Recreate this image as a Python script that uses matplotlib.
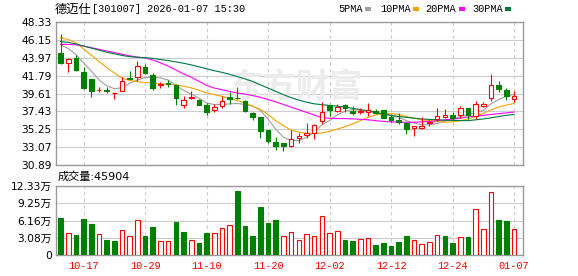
import matplotlib
matplotlib.use('Agg')
import matplotlib.pyplot as plt
from matplotlib.patches import Rectangle

plt.rcParams['font.family'] = ['DejaVu Sans', 'Noto Sans CJK SC']

# 交易日
dates = ['10-14', '10-15', '10-16', '10-17', '10-20', '10-21', '10-22', '10-23', '10-24', '10-27',
         '10-28', '10-29', '10-30', '10-31', '11-03', '11-04', '11-05', '11-06', '11-07', '11-10',
         '11-11', '11-12', '11-13', '11-14', '11-17', '11-18', '11-19', '11-20', '11-21', '11-24',
         '11-25', '11-26', '11-27', '11-28', '12-01', '12-02', '12-03', '12-04', '12-05', '12-08',
         '12-09', '12-10', '12-11', '12-12', '12-15', '12-16', '12-17', '12-18', '12-19', '12-22',
         '12-23', '12-24', '12-25', '12-26', '12-29', '12-30', '12-31', '01-05', '01-06', '01-07']

# K线 (开 高 低 收)
opens = [44.50, 43.39, 43.91, 42.23, 41.39, 39.99, 40.03, 39.67, 39.91, 41.51,
         41.59, 42.79, 41.83, 40.59, 40.95, 40.67, 38.23, 39.05, 38.87, 38.19,
         37.55, 38.03, 39.15, 39.11, 38.75, 37.19, 36.75, 35.15, 33.71, 33.59,
         33.15, 34.23, 34.51, 34.83, 36.27, 38.19, 37.51, 38.15, 37.51, 37.39,
         37.39, 37.47, 37.63, 36.75, 36.35, 36.03, 35.35, 35.35, 36.03, 36.47,
         36.79, 36.95, 37.03, 37.79, 36.87, 38.03, 39.07, 40.67, 40.07, 38.99]
highs = [46.90, 43.95, 44.35, 42.87, 41.40, 40.39, 40.35, 39.75, 41.59, 42.31,
         43.55, 43.15, 42.15, 40.99, 41.27, 40.75, 39.31, 39.91, 38.90, 38.43,
         38.27, 39.35, 39.75, 40.35, 38.80, 37.39, 36.80, 35.20, 34.27, 33.60,
         35.15, 34.75, 35.99, 35.95, 38.63, 38.25, 38.39, 38.35, 38.07, 37.79,
         38.51, 37.67, 37.65, 37.07, 37.23, 36.10, 35.65, 36.75, 36.35, 37.79,
         37.67, 37.39, 38.07, 37.80, 38.75, 38.59, 42.00, 41.19, 40.27, 39.95]
lows = [43.25, 42.27, 42.40, 40.15, 39.15, 39.75, 39.63, 38.99, 39.87, 41.35,
        41.15, 41.99, 39.99, 40.27, 40.39, 38.19, 37.83, 38.95, 38.15, 36.99,
        37.39, 37.79, 38.39, 38.99, 37.40, 36.39, 34.19, 33.55, 32.67, 32.59,
        33.10, 33.59, 34.19, 34.07, 35.87, 36.83, 37.35, 37.31, 36.99, 37.15,
        36.87, 37.15, 36.59, 36.19, 35.95, 34.67, 34.47, 35.27, 35.63, 36.27,
        36.67, 36.39, 36.67, 36.47, 36.47, 37.99, 38.67, 39.79, 38.87, 38.55]
closes = [43.35, 43.87, 42.47, 40.23, 39.87, 40.07, 39.87, 39.71, 41.15, 41.43,
          42.91, 42.07, 40.23, 40.75, 40.71, 39.07, 38.79, 39.15, 38.19, 37.39,
          37.95, 38.71, 38.99, 39.07, 37.47, 36.75, 35.07, 33.79, 33.15, 33.15,
          34.11, 34.43, 34.79, 35.79, 37.39, 37.63, 37.99, 37.79, 37.27, 37.51,
          37.55, 37.27, 36.67, 36.35, 36.11, 35.27, 35.59, 35.63, 36.19, 36.87,
          36.95, 36.67, 37.79, 36.95, 38.27, 38.27, 40.67, 40.11, 39.35, 39.27]

# 成交量 (手) 及涨跌颜色
volumes = [66700, 39300, 35700, 64900, 56000, 37500, 27400, 25600, 44700, 34000,
           62500, 34600, 50000, 25000, 25000, 59600, 41700, 26800, 22000, 39900,
           39300, 48300, 53600, 114400, 51800, 34000, 85800, 57800, 62500, 33400,
           41100, 26800, 37500, 33400, 69700, 39300, 42300, 26800, 25000, 28000,
           29800, 17900, 21400, 16100, 23800, 34000, 26800, 19700, 23200, 35700,
           34000, 22000, 31600, 32200, 82200, 45900, 112600, 62500, 60800, 45904]
vol_up = [0, 1, 0, 0, 0, 1, 0, 0, 1, 1, 1, 0, 0, 1, 1, 0, 0, 1, 0, 0,
          1, 1, 1, 0, 0, 0, 0, 0, 0, 1, 1, 1, 1, 1, 1, 1, 1, 0, 0, 1,
          1, 0, 0, 0, 0, 0, 1, 1, 1, 1, 0, 0, 1, 0, 1, 1, 1, 0, 0, 1]

# 均线
ma5 = [45.55, 45.10, 44.35, 43.35, 42.35, 41.30, 40.55, 40.20, 40.30, 40.85,
       41.25, 41.55, 41.60, 41.50, 41.25, 40.60, 40.00, 39.55, 39.05, 38.45,
       38.27, 38.27, 38.35, 38.39, 38.27, 38.07, 37.55, 36.47, 35.27, 34.27,
       33.87, 33.87, 34.27, 34.87, 35.80, 36.30, 37.00, 37.45, 37.65, 37.55,
       37.45, 37.30, 37.10, 36.90, 36.70, 36.30, 36.00, 35.80, 35.80, 35.95,
       36.25, 36.45, 36.80, 37.00, 37.30, 37.55, 38.35, 38.85, 39.30, 39.50]
ma10 = [46.40, 46.20, 45.80, 45.05, 44.30, 43.50, 42.80, 42.10, 41.50, 41.20,
        41.05, 40.95, 40.90, 40.80, 40.75, 40.65, 40.50, 40.30, 40.00, 39.70,
        39.47, 39.27, 38.99, 38.75, 38.47, 38.07, 37.67, 37.07, 36.30, 35.67,
        35.15, 34.87, 34.75, 34.72, 34.80, 34.99, 35.27, 35.55, 35.90, 36.30,
        36.70, 37.00, 37.15, 37.15, 37.05, 36.80, 36.60, 36.40, 36.30, 36.20,
        36.10, 36.15, 36.30, 36.50, 36.80, 37.20, 37.60, 37.95, 38.20, 38.40]
ma20 = [45.60, 45.60, 45.55, 45.40, 45.20, 45.00, 44.80, 44.60, 44.40, 44.20,
        44.05, 43.95, 43.70, 43.35, 42.95, 42.50, 42.00, 41.60, 41.10, 40.60,
        40.27, 40.07, 39.87, 39.67, 39.55, 39.35, 39.15, 38.87, 38.59, 38.27,
        37.95, 37.63, 37.31, 36.99, 36.67, 36.59, 36.55, 36.55, 36.51, 36.47,
        36.40, 36.30, 36.20, 36.15, 36.10, 36.10, 36.10, 36.15, 36.20, 36.30,
        36.40, 36.50, 36.60, 36.75, 36.85, 36.95, 37.05, 37.15, 37.25, 37.35]
ma30 = [45.95, 45.85, 45.65, 45.40, 45.15, 44.90, 44.65, 44.45, 44.25, 44.10,
        44.03, 43.98, 43.90, 43.75, 43.63, 43.47, 43.30, 43.10, 42.87, 42.63,
        42.39, 42.19, 41.95, 41.67, 41.39, 41.07, 40.67, 40.27, 39.87, 39.47,
        39.10, 38.80, 38.55, 38.35, 38.25, 38.15, 38.07, 37.95, 37.80, 37.65,
        37.50, 37.30, 37.10, 36.95, 36.80, 36.70, 36.60, 36.50, 36.45, 36.40,
        36.35, 36.33, 36.30, 36.30, 36.40, 36.50, 36.65, 36.80, 36.95, 37.05]

price_ticks = [30.89, 33.07, 35.25, 37.43, 39.61, 41.79, 43.97, 46.15, 48.33]
vol_ticks = [0, 30800, 61600, 92500, 123300]
vol_labels = ['0', '3.08万', '6.16万', '9.25万', '12.33万']

RED = '#ff0000'
GREEN = '#008000'
GRID = '#cccccc'
FRAME = '#999999'
MA_COLORS = ['#a0a0a0', '#f5a300', '#ff00ff', '#007a3d']

W, H = 578, 276


def fx(x):
    return x / W


def fy(y):
    return 1 - y / H


fig = plt.figure(figsize=(W / 100, H / 100), dpi=100)
ax = fig.add_axes([fx(56), fy(165), fx(522.5 - 56), (165 - 22) / H])
axv = fig.add_axes([fx(56), fy(255), fx(522.5 - 56), (255 - 186) / H], sharex=ax)

x = list(range(len(dates)))
tick_idx = x[3::8]

# K线
for i in x:
    up = closes[i] >= opens[i]
    col = RED if up else GREEN
    ax.vlines(i, lows[i], highs[i], color=col, lw=0.8, zorder=3)
    ax.bar(i, abs(closes[i] - opens[i]), bottom=min(opens[i], closes[i]), width=0.6,
           facecolor='white' if up else GREEN, edgecolor=col, lw=0.8, zorder=4)

for ma, c in zip([ma5, ma10, ma20, ma30], MA_COLORS):
    ax.plot(x, ma, color=c, lw=0.8, zorder=2.5)

# 水印
ax.text(0.515, 0.54, '东方财富', transform=ax.transAxes, fontsize=24, color='#ececec',
        family='Noto Sans CJK SC', fontweight='bold', ha='center', va='center', zorder=0.8)

ax.set_xlim(-0.59, 60.1)
ax.set_ylim(price_ticks[0], price_ticks[-1])
ax.set_yticks(price_ticks)
ax.set_yticklabels(['%.2f' % v for v in price_ticks])
ax.set_xticks(tick_idx)
ax.tick_params(axis='x', labelbottom=False, length=0)

# 成交量
for i in x:
    col = RED if vol_up[i] else GREEN
    axv.bar(i, volumes[i], width=0.6, facecolor='white' if vol_up[i] else GREEN,
            edgecolor=col, lw=0.8, zorder=3)

axv.set_ylim(0, vol_ticks[-1])
axv.set_yticks(vol_ticks)
axv.set_yticklabels(vol_labels)
axv.set_xticks(tick_idx)
axv.set_xticklabels([dates[i] for i in tick_idx], color=RED, family='Liberation Mono',
                    fontsize=7.4)
axv.tick_params(axis='x', length=0, pad=4)

for a in (ax, axv):
    a.set_axisbelow(True)
    a.grid(True, axis='y', color=GRID, lw=0.8, ls='-')
    a.grid(True, axis='x', color=GRID, lw=0.8, ls=(0, (3, 3)))
    a.tick_params(axis='y', length=0, pad=3, labelsize=7.7, colors='black')
    for s in a.spines.values():
        s.set_color(FRAME)
        s.set_linewidth(1.0)

# 标题与图例
fig.text(fx(55), fy(9), '德迈仕', family='Noto Sans CJK SC', fontsize=8.8, va='center')
fig.text(fx(92), fy(9), '[301007] 2026-01-07 15:30', family='Liberation Mono',
         fontsize=7.4, va='center')

legend_items = [('5PMA', 338, 365), ('10PMA', 380, 413), ('20PMA', 425, 459), ('30PMA', 472, 505)]
for (name, tx, rx), c in zip(legend_items, MA_COLORS):
    fig.text(fx(tx), fy(9), name, family='Liberation Mono', fontsize=7.4, va='center')
    fig.patches.append(Rectangle((fx(rx), fy(10.5)), fx(6), 3 / H, transform=fig.transFigure,
                                 facecolor=c, edgecolor='none'))

fig.text(fx(58), fy(177), '成交量:%d' % volumes[-1], fontsize=8, va='center')

fig.savefig('out.png', dpi=100)
